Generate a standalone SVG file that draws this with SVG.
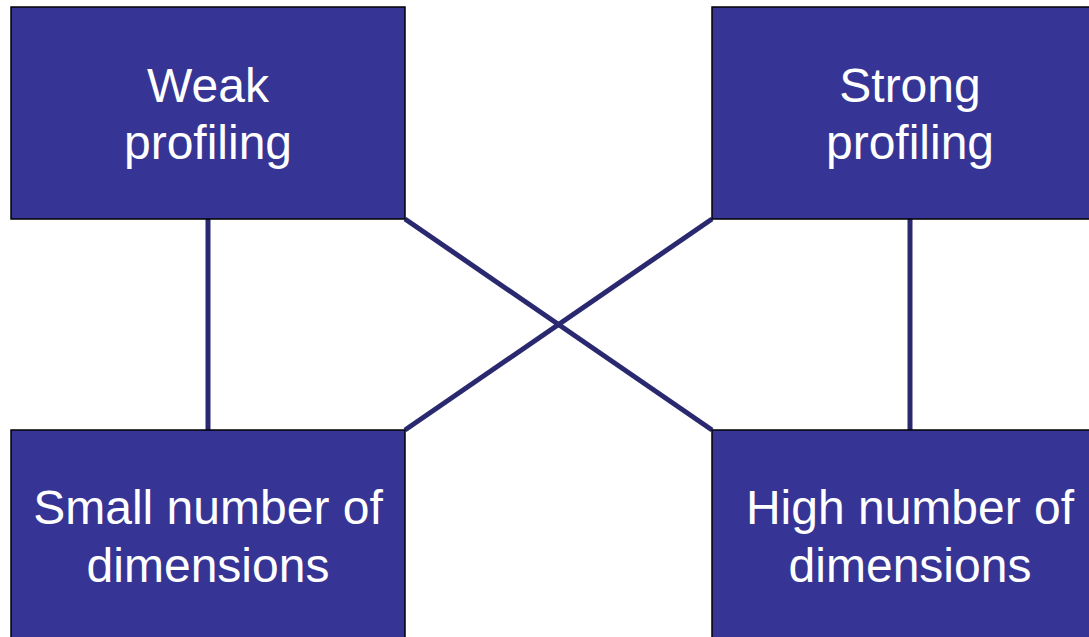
<svg xmlns="http://www.w3.org/2000/svg" width="1089" height="637" viewBox="0 0 1089 637">
  <style>
    .box { fill: #363596; stroke: #000000; stroke-width: 1.5; }
    .label { fill: #ffffff; font-family: "Liberation Sans", Arial, sans-serif; font-size: 48px; text-anchor: middle; }
    .link { stroke: #2a2970; stroke-width: 5; fill: none; }
  </style>
  <rect width="1089" height="637" fill="#ffffff"/>

  <!-- connectors -->
  <g id="connectors">
    <line class="link" x1="208" y1="219" x2="208" y2="430"/>
    <line class="link" x1="910" y1="219" x2="910" y2="430"/>
    <line class="link" x1="405" y1="219" x2="712" y2="430"/>
    <line class="link" x1="712" y1="219" x2="405" y2="430"/>
  </g>

  <g id="weak-profiling">
    <rect class="box" x="11" y="7" width="394" height="212"/>
    <text class="label" x="208" y="102">Weak</text>
    <text class="label" x="208" y="159">profiling</text>
  </g>

  <g id="strong-profiling">
    <rect class="box" x="712" y="7" width="394" height="212"/>
    <text class="label" x="910" y="102">Strong</text>
    <text class="label" x="910" y="159">profiling</text>
  </g>

  <g id="small-number">
    <rect class="box" x="11" y="430" width="394" height="212"/>
    <text class="label" x="208" y="524">Small number of</text>
    <text class="label" x="208" y="582">dimensions</text>
  </g>

  <g id="high-number">
    <rect class="box" x="712" y="430" width="394" height="212"/>
    <text class="label" x="910" y="524">High number of</text>
    <text class="label" x="910" y="582">dimensions</text>
  </g>
</svg>
